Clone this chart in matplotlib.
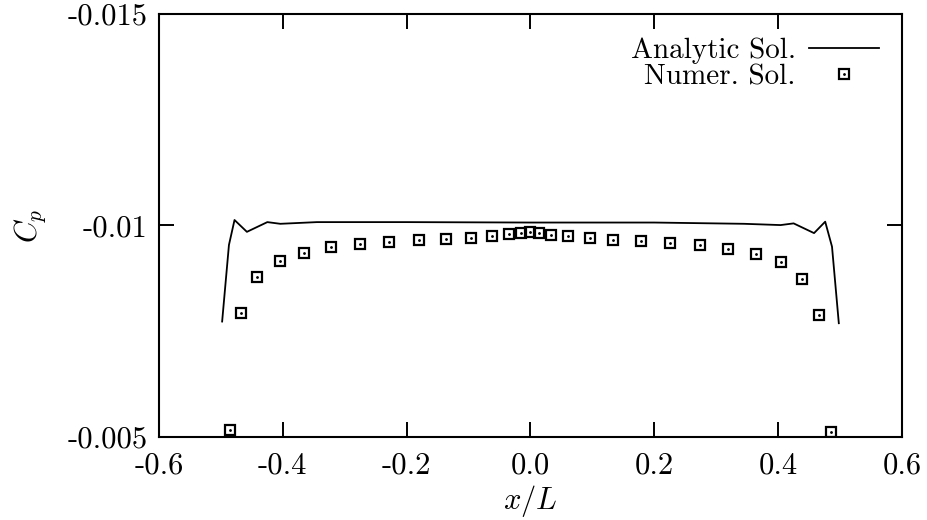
import matplotlib
matplotlib.use("Agg")
import matplotlib.pyplot as plt
import numpy as np

# numerical solution (squares)
x_num = [-0.486, -0.467, -0.441, -0.405, -0.366, -0.322, -0.275, -0.228, -0.180, -0.136,
         -0.096, -0.062, -0.034, -0.015, -0.001, 0.013, 0.033, 0.060, 0.096, 0.133,
         0.179, 0.225, 0.273, 0.319, 0.364, 0.404, 0.438, 0.466, 0.486]
cp_num = [-0.00517, -0.00792, -0.00878, -0.00917, -0.00936, -0.00948, -0.00956, -0.00961, -0.00966, -0.00967,
          -0.00971, -0.00975, -0.00979, -0.00983, -0.00985, -0.00982, -0.00978, -0.00974, -0.00970, -0.00966,
          -0.00963, -0.00959, -0.00953, -0.00945, -0.00933, -0.00914, -0.00874, -0.00788, -0.00512]

# analytic solution (line)
x_an = [-0.498, -0.487, -0.478, -0.458, -0.425, -0.404, -0.345, -0.2, 0.0, 0.2, 0.345,
        0.404, 0.425, 0.458, 0.476, 0.487, 0.498]
cp_an = [-0.00773, -0.00954, -0.01013, -0.00985, -0.01008, -0.01004, -0.01008, -0.01008, -0.01007, -0.01007, -0.01004,
         -0.01001, -0.01005, -0.00982, -0.01009, -0.00950, -0.00769]

xticks = [-0.6, -0.4, -0.2, 0.0, 0.2, 0.4, 0.6]
xticklabels = ["-0.6", "-0.4", "-0.2", "0.0", "0.2", "0.4", "0.6"]
yticks = [-0.015, -0.01, -0.005]
yticklabels = ["-0.015", "-0.01", "-0.005"]

plt.rcParams["font.family"] = ["cmr10", "DejaVu Serif"]
plt.rcParams["mathtext.fontset"] = "cm"

fig = plt.figure(figsize=(9.27, 5.2), dpi=100)
ax = fig.add_axes([0.1715, 0.1596, 0.8015, 0.8135])

line, = ax.plot(x_an, cp_an, color="black", lw=1.3)
sq, = ax.plot(x_num, cp_num, ls="none", marker="s", ms=7, mfc="none", mec="black", mew=1.6)
dot, = ax.plot(x_num, cp_num, ls="none", marker=".", ms=2, color="black")

ax.set_xlim(-0.6, 0.6)
ax.set_ylim(-0.005, -0.015)
ax.set_xticks(xticks, labels=xticklabels)
ax.set_yticks(yticks, labels=yticklabels)
ax.tick_params(direction="in", length=11, width=1.4, labelsize=22, top=True, right=True)
ax.tick_params(axis="x", pad=11)
ax.tick_params(axis="y", pad=8)
for s in ax.spines.values():
    s.set_linewidth(1.5)

ax.set_xlabel("$x/L$", fontsize=22, labelpad=2)
ax.set_ylabel("$C_p$", fontsize=22, labelpad=14)

ax.legend([line, (sq, dot)], ["Analytic Sol.", "Numer. Sol."], loc="upper right",
          markerfirst=False, frameon=False, fontsize=21, handlelength=2.4,
          handletextpad=0.45, labelspacing=0.0, borderaxespad=0.4)

fig.savefig("out.png", dpi=100)
